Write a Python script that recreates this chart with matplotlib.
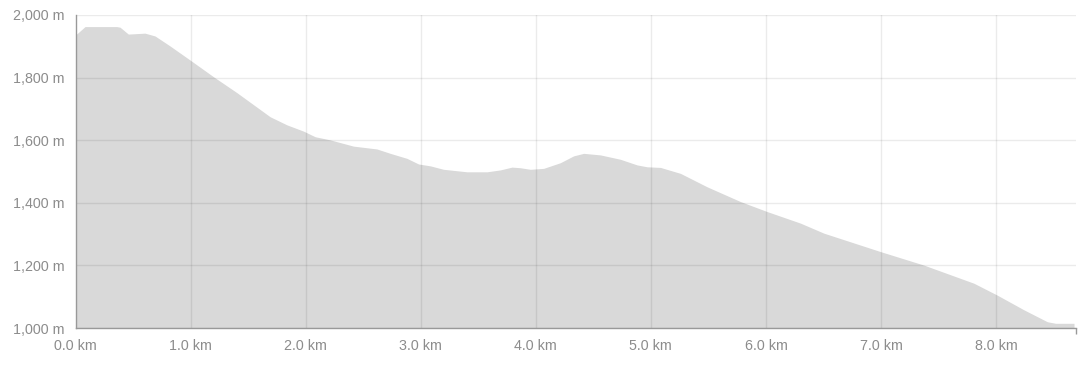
import matplotlib
matplotlib.use("Agg")
import matplotlib.pyplot as plt
from matplotlib.ticker import FuncFormatter, FixedLocator

# Elevation profile (distance in km, elevation in m)
distance_km = [0.0, 0.083, 0.358, 0.387, 0.459, 0.604, 0.691, 0.822, 0.996, 1.198,
               1.402, 1.691, 1.837, 1.981, 2.083, 2.213, 2.416, 2.619, 2.735, 2.880,
               2.981, 3.083, 3.198, 3.402, 3.576, 3.691, 3.793, 3.865, 3.952, 4.068,
               4.213, 4.329, 4.416, 4.561, 4.735, 4.880, 4.967, 5.083, 5.257, 5.489,
               5.778, 6.010, 6.300, 6.503, 6.996, 7.372, 7.807, 8.010, 8.242, 8.445,
               8.517, 8.677]
elevation_m = [1936, 1963, 1963, 1961, 1939, 1942, 1933, 1901, 1856, 1803,
               1752, 1675, 1649, 1629, 1611, 1601, 1581, 1572, 1558, 1542,
               1524, 1518, 1507, 1499, 1499, 1505, 1514, 1512, 1507, 1510,
               1528, 1550, 1558, 1553, 1539, 1521, 1515, 1513, 1494, 1451,
               1404, 1372, 1335, 1303, 1244, 1201, 1143, 1105, 1058, 1020,
               1015, 1015]

x_ticks = [0, 1, 2, 3, 4, 5, 6, 7, 8]
y_ticks = [1000, 1200, 1400, 1600, 1800, 2000]
x_max = 8.69
y_min, y_max = 1000, 2000

plt.rcParams['font.family'] = ['Liberation Sans', 'DejaVu Sans']

W, H = 1083, 368
fig = plt.figure(figsize=(W / 100, H / 100), dpi=100)
left, right, top, bottom = 75.5, 1075.5, 15.0, 328.0
ax = fig.add_axes([left / W, (H - bottom) / H, (right - left) / W, (bottom - top) / H])

ax.fill_between(distance_km, elevation_m, y_min, color='#d9d9d9', lw=0, zorder=1)

ax.set_xlim(0, x_max)
ax.set_ylim(y_min, y_max)

# gridlines drawn over the fill
for yt in y_ticks:
    ax.axhline(yt, color='black', alpha=0.08, lw=1, zorder=2)
for xt in x_ticks[1:]:
    ax.axvline(xt, color='black', alpha=0.08, lw=1, zorder=2)

for s in ['top', 'right']:
    ax.spines[s].set_visible(False)
for s in ['left', 'bottom']:
    ax.spines[s].set_color('#999999')
    ax.spines[s].set_linewidth(1)
    ax.spines[s].set_zorder(3)

ax.set_xticks(x_ticks)
ax.set_yticks(y_ticks)
ax.xaxis.set_major_formatter(FuncFormatter(lambda v, p: f"{v:.1f} km"))
ax.yaxis.set_major_formatter(FuncFormatter(lambda v, p: f"{int(v):,} m"))
ax.tick_params(axis='both', which='major', length=0, labelsize=10.3, labelcolor='#8c8c8c')
ax.tick_params(axis='y', which='major', pad=8)
ax.tick_params(axis='x', which='major', pad=8)

# end ticks of the axis domain
ax.xaxis.set_minor_locator(FixedLocator([0, x_max]))
ax.yaxis.set_minor_locator(FixedLocator([y_min, y_max]))
ax.tick_params(axis='both', which='minor', length=4.3, width=1, color='#999999')

fig.savefig('out.png', dpi=100)
